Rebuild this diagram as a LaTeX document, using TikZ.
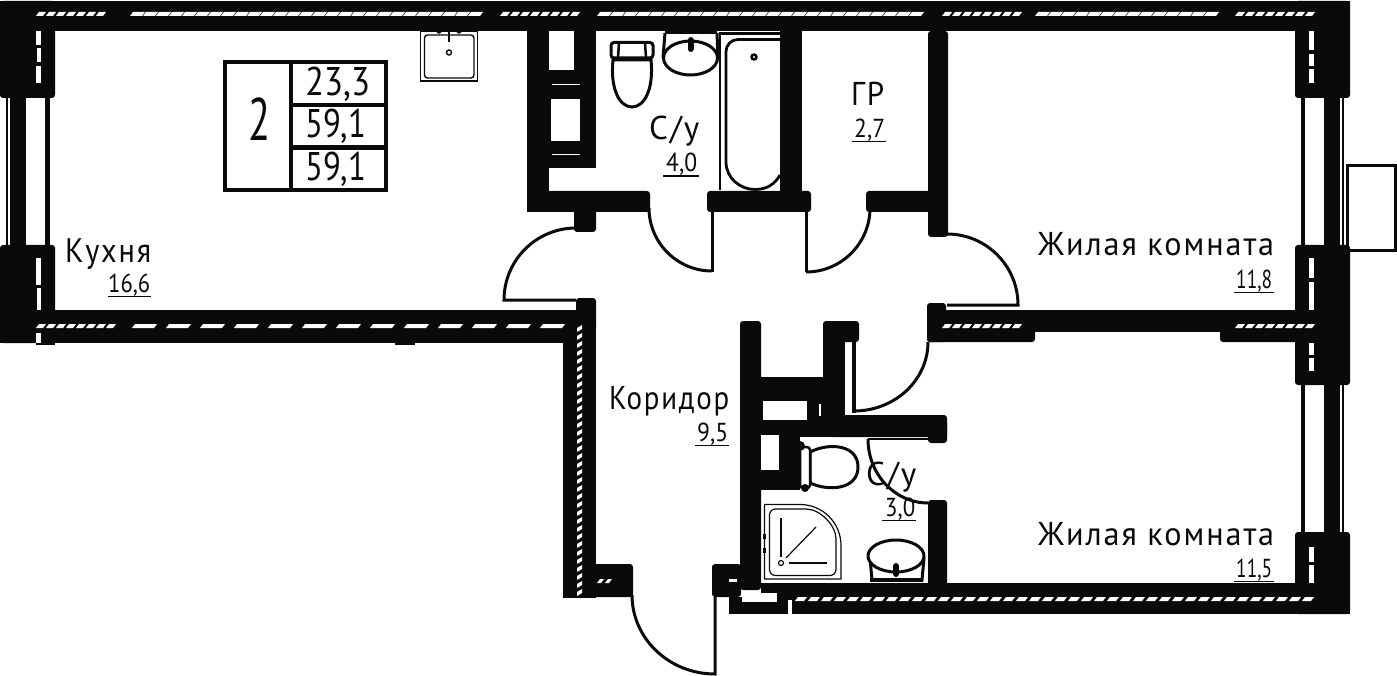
\documentclass[tikz,border=0pt]{standalone}
\usepackage{fontspec}
\usepackage{graphicx}
\setmainfont{PT Sans}[LetterSpace=6]
\newfontfamily\numf{PT Sans}
\definecolor{ink}{HTML}{0A0A0A}
\tikzset{
  wall/.style={fill=ink},
  pier/.style={fill=ink,rounded corners=3pt},
  fixture/.style={draw=ink,line width=3pt,fill=white},
  thinl/.style={draw=ink,line width=1.4pt},
  door/.style={draw=ink,line width=3pt},
  ulin/.style={draw=ink,line width=1.2pt},
  lbl/.style={inner sep=0pt,anchor=base west,text=ink},
}
\newcommand\Wl[4]{\fill[wall] (#1,#2) rectangle (#3,#4);}
\newcommand\Pw[4]{\fill[pier] (#1,#2) rectangle (#3,#4);}
\newcommand\Wh[4]{\fill[white] (#1,#2) rectangle (#3,#4);}
% horizontal hatch: x1 x2 y step length
\newcommand\HS[5]{\foreach \x in {#1,\the\numexpr#1+#4\relax,...,#2}{\fill[white] (\x,#3+2) -- (\x+#5,#3+2) -- (\x+#5+3,#3-2) -- (\x+3,#3-2) -- cycle;}}
% vertical hatch: x y1 y2 step length
\newcommand\VS[5]{\foreach \y in {#2,\the\numexpr#2+#4\relax,...,#3}{\fill[white] (#1,\y+3) -- (#1+5,\y) -- (#1+5,\y+#5) -- (#1,\y+#5+3) -- cycle;}}
\newcommand\Tx[6]{\node[lbl,font=\fontsize{#5pt}{#5pt}\selectfont] (#1) at (#2,#3) {\resizebox{#4pt}{\height}{#6}};}
\newcommand\Nm[6]{\node[lbl,font=\numf\fontsize{#5pt}{#5pt}\selectfont] (#1) at (#2,#3) {\resizebox{#4pt}{\height}{#6}};}
\begin{document}
\begin{tikzpicture}[x=1pt,y=-1pt]
\useasboundingbox (0,0) rectangle (1397,676);
\fill[white] (0,0) rectangle (1397,676);

% --- outer walls
\Wl{0}{1}{1350}{31}
\Pw{0}{1}{55}{98}
\Pw{0}{245}{55}{343}
\Wl{0}{310}{576}{343}
\Wl{36}{343}{55}{345}
\Wl{395}{343}{415}{345}
\Pw{1295}{1}{1350}{98}
\Pw{1295}{245}{1350}{385}
\Pw{1295}{532}{1350}{614}
\Wl{930}{310}{1310}{332}
\Pw{927}{303}{946}{342}
\Pw{927}{322}{1035}{342}
\Pw{1220}{320}{1320}{342}
\Wl{792}{583}{1350}{614}
\Wl{761}{583}{792}{600}
\Wl{729}{597}{790}{614}
% corridor left wall
\Wl{563}{310}{596}{598}
\Pw{576}{298}{596}{330}
\Pw{590}{564}{633}{597}
\Pw{712}{564}{741}{597}

% --- windows
\fill[ink] (6,98) rectangle (8,245);
\fill[ink] (10,98) rectangle (26,245);
\fill[ink] (45,98) rectangle (50,245);
\fill[ink] (1301,98) rectangle (1305,245);
\fill[ink] (1324,98) rectangle (1340,245);
\fill[ink] (1341.5,98) rectangle (1344,245);
\fill[ink] (1301,385) rectangle (1305,532);
\fill[ink] (1324,385) rectangle (1340,532);
\fill[ink] (1341.5,385) rectangle (1344,532);

% --- bathroom 1 block
\Wl{527}{31}{549}{212}
\Wl{574}{31}{596}{168}
\Wl{549}{70}{574}{168}
\Pw{527}{191}{650}{212}
\Pw{574}{205}{596}{232}
\Pw{707}{191}{811}{212}
\Wl{780}{31}{802}{191}
\Pw{866}{191}{947}{212}
\Pw{928}{31}{948}{237}
\Wh{551}{99}{580}{141}
\Wh{552}{84.5}{580}{85.5}
\Wh{552}{154}{580}{155}

% --- bathroom 2 block
\Pw{740}{321}{761}{590}
\Pw{823}{321}{859}{342}
\Wl{823}{330}{845}{437}
\Wl{761}{377}{823}{401}
\Wl{761}{415}{845}{437}
\Wl{761}{401}{823}{415}
\Pw{830}{415}{947}{437}
\Pw{928}{420}{947}{443}
\Wl{761}{430}{800}{490}
\Pw{928}{500}{947}{590}
\Wh{763}{401}{807}{420}
\Wh{819}{404}{821}{416}
\Wh{761}{435}{779}{470}

% --- hatching
\HS{36}{105}{14}{10}{7}
\HS{130}{480}{14}{13}{12}
\HS{500}{575}{14}{10}{7}
\HS{597}{920}{14}{13}{12}
\HS{942}{1012}{14}{10}{7}
\HS{1035}{1210}{14}{13}{12}
\HS{1235}{1305}{14}{10}{7}
\HS{36}{108}{326}{10}{7}
\HS{132}{560}{326}{34}{22}
\HS{942}{1012}{326}{10}{7}
\HS{1235}{1305}{326}{10}{7}
\HS{795}{1308}{599}{13}{9}
\HS{597}{612}{581}{8}{4}
\Wh{36}{31}{41}{45}
\Wh{37}{48}{41}{62}
\Wh{36}{66}{41}{83}
\Wh{36}{258}{41}{285}
\Wh{37}{288}{41}{310}
\Wh{36}{333}{41}{343}
\Wh{1309}{31}{1314}{50}
\Wh{1309}{54}{1314}{66}
\Wh{1309}{69}{1314}{83}
\Wh{1309}{258}{1314}{278}
\Wh{1309}{282}{1314}{310}
\Wh{1309}{343}{1314}{355}
\Wh{1309}{358}{1314}{371}
\Wh{1309}{547}{1314}{562}
\Wh{1309}{565}{1314}{583}
\VS{577}{325}{590}{8}{4}
\Wh{742}{593}{777}{602}
\Wh{788}{600}{792}{614}
\Wh{729}{579}{737}{582}

% --- doors
\draw[door] (576,228) arc[start angle=-90,end angle=-180,radius=72] -- (576,300);
\draw[door] (712,272) -- (712,212);
\draw[door] (649,208) arc[start angle=180,end angle=90,radius=63];
\draw[door] (806,272) -- (806,212);
\draw[door] (870,208) arc[start angle=0,end angle=90,radius=64];
\draw[door] (947,234) arc[start angle=-90,end angle=0,radius=71] -- (947,305);
\draw[door] (632,595) arc[start angle=180,end angle=90,x radius=83,y radius=79] -- (715,597);
\draw[door] (928,342) arc[start angle=0,end angle=90,x radius=74,y radius=69];
\draw[door,line width=4.5pt] (854,342) -- (854,412.5);
\draw[door] (868,439) arc[start angle=180,end angle=90,x radius=60,y radius=64];
\draw[door,line width=2pt] (868,439) -- (928,439);

% --- balcony box
\draw[ink,line width=3pt] (1347,166) rectangle (1395,251);

% --- summary box
\draw[ink,line width=4pt] (225,62) rectangle (386,190);
\fill[ink] (289,62) rectangle (293,190);
\fill[ink] (291,103) rectangle (386,107);
\fill[ink] (291,145) rectangle (386,150);

% --- kitchen sink
\draw[thinl,fill=white] (420.5,31) rectangle (477.5,81);
\draw[thinl,rounded corners=3pt] (424.5,35) rectangle (474,78);
\draw[thinl] (449,52.5) circle (2.5);
\draw[thinl] (449,31) -- (449,42);
\draw[thinl] (439,31) circle (2);
\draw[thinl] (459,31) circle (2);

% --- bath
\draw[ink,line width=2.2pt] (780,33.5) -- (720,33.5) -- (720,190);
\draw[ink,line width=2.8pt] (780,39.5) -- (738,39.5) arc[start angle=-90,end angle=-180,radius=12] -- (726,162) .. controls (726,178) and (740,189.5) .. (755,189.5) .. controls (767,189.5) and (775,184) .. (780,175);
\fill[ink] (754,57) circle (3.8);
\fill[white] (754,57) circle (1.2);

% --- toilet 1
\draw[fixture] (613,60) .. controls (610,90) and (620,107) .. (632,107) .. controls (644,107) and (654,90) .. (651,60) -- cycle;
\draw[fixture,rounded corners=3pt] (611,42.5) rectangle (653,58);
\draw[ink,line width=2.5pt] (619,43) -- (618,58);
\draw[ink,line width=2.5pt] (645,43) -- (646,58);

% --- sink 1
\draw[ink,line width=3pt] (665,33) -- (663,58);
\draw[ink,line width=3pt] (717,33) -- (718,58);
\draw[ink,line width=3pt] (665,33) -- (717,33);
\draw[fixture] (690.5,58) ellipse (27 and 17);
\draw[ink,line width=6pt,line cap=round] (690.5,40) -- (690.5,49);

% --- toilet 2
\draw[fixture] (810,452) .. controls (830,442) and (858,445) .. (858,467) .. controls (858,489) and (830,492) .. (810,483) -- cycle;
\draw[ink,fill=white,line width=2.5pt,rounded corners=3pt] (800,447) rectangle (810,488);
\fill[ink] (800,446) circle (5);
\fill[ink] (805,488) circle (4);

% --- shower
\draw[thinl,line width=1.2pt] (764.5,504.5) -- (800,504.5) arc[start angle=-90,end angle=0,radius=41] -- (841,579) -- (764.5,579) -- cycle;
\draw[thinl,line width=1.2pt,rounded corners=6pt] (769.5,509) -- (800,509) arc[start angle=-90,end angle=0,radius=36] -- (836,575.5) -- (769.5,575.5) -- cycle;
\draw[thinl,line width=1.2pt] (781,518) -- (781,557);
\draw[thinl,line width=1.2pt] (786,558) -- (816,527);
\draw[thinl,line width=1.2pt] (789,563) -- (827,563);
\draw[thinl,line width=1.2pt] (781,563) circle (2.5);
\draw[thinl,line width=1pt] (763,534) rectangle (765,538);
\draw[thinl,line width=1pt] (763,548) rectangle (765,552);

% --- sink 2
\draw[ink,line width=3pt,fill=white] (870,558) -- (872,580) -- (922,580) -- (924,558);
\fill[ink] (870,578) rectangle (923,581.5);
\draw[fixture] (896,556) ellipse (28 and 16);
\draw[ink,line width=6pt,line cap=round] (896,566) -- (896,574);

% --- texts
\Nm{big}{248}{141}{22}{60}{2}
\Nm{va}{305}{96}{65}{40}{23,3}
\Nm{vb}{305}{138}{61}{40}{59,1}
\Nm{vc}{305}{181}{61}{40}{59,1}
\Tx{kit}{65}{262}{86}{34}{Кухня}
\Tx{wca}{649}{140}{50}{33}{С/у}
\Tx{gr}{851}{106}{33}{33}{ГР}
\Tx{ra}{1038}{256}{236}{33}{Жилая комната}
\Tx{rb}{1038}{545}{236}{33}{Жилая комната}
\Tx{cor}{609}{409}{120}{33}{Коридор}
\Tx{wcb}{866}{485}{50}{33}{С/у}
\Nm{ka}{108}{293}{42}{26}{16,6}
\Nm{wa}{666}{172}{31}{26}{4,0}
\Nm{ga}{854}{138}{31}{26}{2,7}
\Nm{rc}{1236}{288}{36}{26}{11,8}
\Nm{rd}{1236}{577}{36}{26}{11,5}
\Nm{co}{697}{441}{31}{26}{9,5}
\Nm{wb}{885}{516}{30}{26}{3,0}
\draw[ulin] (108,296.5) -- (151,296.5);
\draw[ulin] (663,176) -- (699,176);
\draw[ulin] (852,141.5) -- (886,141.5);
\draw[ulin] (1234,292.5) -- (1274,292.5);
\draw[ulin] (1234,581.5) -- (1274,581.5);
\draw[ulin] (695,445.5) -- (729,445.5);
\draw[ulin] (882,520.5) -- (916,520.5);
\end{tikzpicture}
\end{document}
